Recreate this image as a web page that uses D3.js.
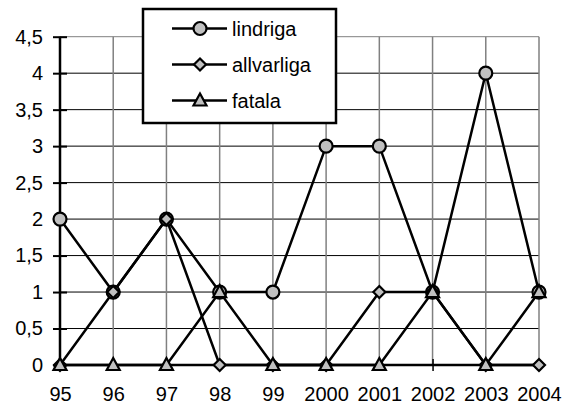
<!DOCTYPE html>
<meta charset="utf-8">
<style>
body { margin: 0; background: #fff; }
text { font-family: Arial, "Liberation Sans", sans-serif; fill: #000; }
</style>
<body>
<svg width="573" height="405"></svg>
</body>
<script src="https://d3js.org/d3.v7.min.js"></script>
<script>

var years = ["95", "96", "97", "98", "99", "2000", "2001", "2002", "2003", "2004"];
var yTicks = [0, 0.5, 1, 1.5, 2, 2.5, 3, 3.5, 4, 4.5];
var lindriga = [2, 1, 2, 1, 1, 3, 3, 1, 4, 1];
var allvarliga = [0, 1, 2, 0, 0, 0, 1, 1, 0, 0];
var fatala = [0, 0, 0, 1, 0, 0, 0, 1, 0, 1];
var seriesNames = ["lindriga", "allvarliga", "fatala"];

var series = [
  {name: seriesNames[0], values: lindriga, shape: "circle"},
  {name: seriesNames[1], values: allvarliga, shape: "diamond"},
  {name: seriesNames[2], values: fatala, shape: "triangle"}
];

var svg = d3.select("svg");

var x = d3.scalePoint().domain(years).range([60, 539]);
var y = d3.scaleLinear().domain([0, 4.5]).range([365, 36.7]);

function marker(sel, shape) {
  if (shape === "circle") {
    sel.append("circle").attr("r", 6.5);
  } else if (shape === "diamond") {
    sel.append("path").attr("d", "M0,-6L6,0L0,6L-6,0Z");
  } else {
    sel.append("path").attr("d", "M0,-7L6.5,5L-6.5,5Z");
  }
  sel.selectAll("circle,path")
    .attr("fill", "#c0c0c0")
    .attr("stroke", "#000")
    .attr("stroke-width", 2.2);
}

// grid
svg.append("g").selectAll("line")
  .data(yTicks.filter(function(d) { return d > 0; }))
  .enter().append("line")
    .attr("x1", x(years[0])).attr("x2", x(years[years.length - 1]))
    .attr("y1", function(d) { return y(d); }).attr("y2", function(d) { return y(d); })
    .attr("stroke", function(d) { return d === 4.5 ? "#808080" : "#000"; })
    .attr("stroke-width", 1);

svg.append("g").selectAll("line")
  .data(years.slice(1))
  .enter().append("line")
    .attr("x1", function(d) { return x(d); }).attr("x2", function(d) { return x(d); })
    .attr("y1", y(4.5)).attr("y2", y(0))
    .attr("stroke", "#808080")
    .attr("stroke-width", 1.5);

// axes
var yAxis = d3.axisLeft(y).tickValues(yTicks)
  .tickFormat(function(d) { return String(d).replace(".", ","); })
  .tickSize(7).tickPadding(10);
var gy = svg.append("g").attr("transform", "translate(60,0)").call(yAxis)
  .attr("font-size", 20).attr("font-family", "Arial, 'Liberation Sans', sans-serif");
gy.select(".domain").remove();
gy.selectAll(".tick line").attr("x2", -7).attr("x1", 7).attr("stroke-width", 2);
svg.append("line").attr("x1", 60).attr("x2", 60).attr("y1", y(4.5)).attr("y2", y(0))
  .attr("stroke", "#000").attr("stroke-width", 2.5);

var xAxis = d3.axisBottom(x).tickSize(6).tickPadding(16);
var gx = svg.append("g").attr("transform", "translate(0,365)").call(xAxis)
  .attr("font-size", 20).attr("font-family", "Arial, 'Liberation Sans', sans-serif");
gx.select(".domain").remove();
gx.selectAll(".tick line").attr("y1", -6).attr("y2", 6).attr("stroke-width", 1.5);
svg.append("line").attr("x1", 60).attr("x2", 539).attr("y1", y(0)).attr("y2", y(0))
  .attr("stroke", "#000").attr("stroke-width", 2.5);

// lines
var line = d3.line()
  .x(function(d, i) { return x(years[i]); })
  .y(function(d) { return y(d); });

series.forEach(function(s) {
  svg.append("path")
    .attr("d", line(s.values))
    .attr("fill", "none")
    .attr("stroke", "#000")
    .attr("stroke-width", 2.5);
});

series.forEach(function(s) {
  svg.append("g").selectAll("g")
    .data(s.values)
    .enter().append("g")
      .attr("transform", function(d, i) { return "translate(" + x(years[i]) + "," + y(d) + ")"; })
      .each(function() { marker(d3.select(this), s.shape); });
});

// legend
var legend = svg.append("g");
legend.append("rect")
  .attr("x", 143).attr("y", 9).attr("width", 193).attr("height", 114)
  .attr("fill", "#fff").attr("stroke", "#000").attr("stroke-width", 2.5);

series.forEach(function(s, i) {
  var ly = 28.5 + i * 36;
  legend.append("line").attr("x1", 172).attr("x2", 227).attr("y1", ly).attr("y2", ly)
    .attr("stroke", "#000").attr("stroke-width", 2.5);
  var m = legend.append("g").attr("transform", "translate(200," + ly + ")");
  marker(m, s.shape);
  legend.append("text").attr("x", 232).attr("y", ly).attr("dy", "0.35em")
    .attr("font-size", 20).text(s.name);
});

</script>
